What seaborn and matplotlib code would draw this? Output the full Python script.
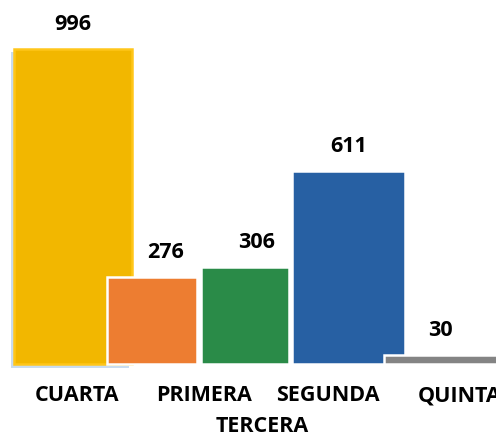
import matplotlib
matplotlib.use("Agg")
import matplotlib.pyplot as plt
import matplotlib.patheffects as pe
import pandas as pd
import seaborn as sns

categories = ["CUARTA", "PRIMERA", "TERCERA", "SEGUNDA", "QUINTA"]
values = [996, 276, 306, 611, 30]
colors = ["#F2B700", "#ED7D31", "#2A8B48", "#2760A3", "#848484"]

# layout of the staggered Excel-like bars (category units)
bar_centers = [0.08, 0.93, 1.93, 3.04, 4.03]
bar_widths = [1.27, 0.97, 0.95, 1.22, 1.22]
value_x = [0.08, 1.07, 2.05, 3.04, 4.03]
label_x = [0.12, 1.49, 2.12, 2.82, 4.24]
label_row = [0, 0, 1, 0, 0]

sns.set_theme(style="white")
plt.rcParams["font.family"] = ["Open Sans", "DejaVu Sans"]

df = pd.DataFrame({"cat": categories, "val": values})

fig = plt.figure(figsize=(4.96, 4.36), dpi=100)
ax = fig.add_axes([0, 72 / 436, 1, 364 / 436])
sns.barplot(data=df, x="cat", y="val", hue="cat", palette=colors,
            order=categories, width=1, legend=False, ax=ax, saturation=1)

for i, patch in enumerate(ax.patches):
    patch.set_width(bar_widths[i])
    patch.set_x(bar_centers[i] - bar_widths[i] / 2)
    patch.set_edgecolor("white")
    patch.set_linewidth(1.8)
    patch.set_zorder(2 + i)
    patch.set_clip_on(False)

# soft shadow on the tallest bar
ax.patches[0].set_edgecolor("#FFC61A")
ax.patches[0].set_path_effects([
    pe.SimplePatchShadow(offset=(-2.2, -2.6), shadow_rgbFace="#C9DCEF", alpha=1),
    pe.Normal(),
])

for x, v in zip(value_x, values):
    ax.annotate(str(v), (x, v), xytext=(0, 17.5), textcoords="offset points",
                ha="center", va="center", fontsize=15.5, fontweight="bold",
                color="black", annotation_clip=False)

for x, lab, row in zip(label_x, categories, label_row):
    ax.annotate(lab, (x, 0), xytext=(0, -23 - row * 22), textcoords="offset points",
                ha="center", va="center", fontsize=15.5, fontweight="bold",
                color="black", annotation_clip=False)

ax.set_xlim(-0.705, 4.628)
ax.set_ylim(0, 1150)
ax.set_xticks([])
ax.set_yticks([])
ax.set_xlabel("")
ax.set_ylabel("")
sns.despine(ax=ax, left=True, bottom=True)

fig.savefig("out.png", dpi=100)
